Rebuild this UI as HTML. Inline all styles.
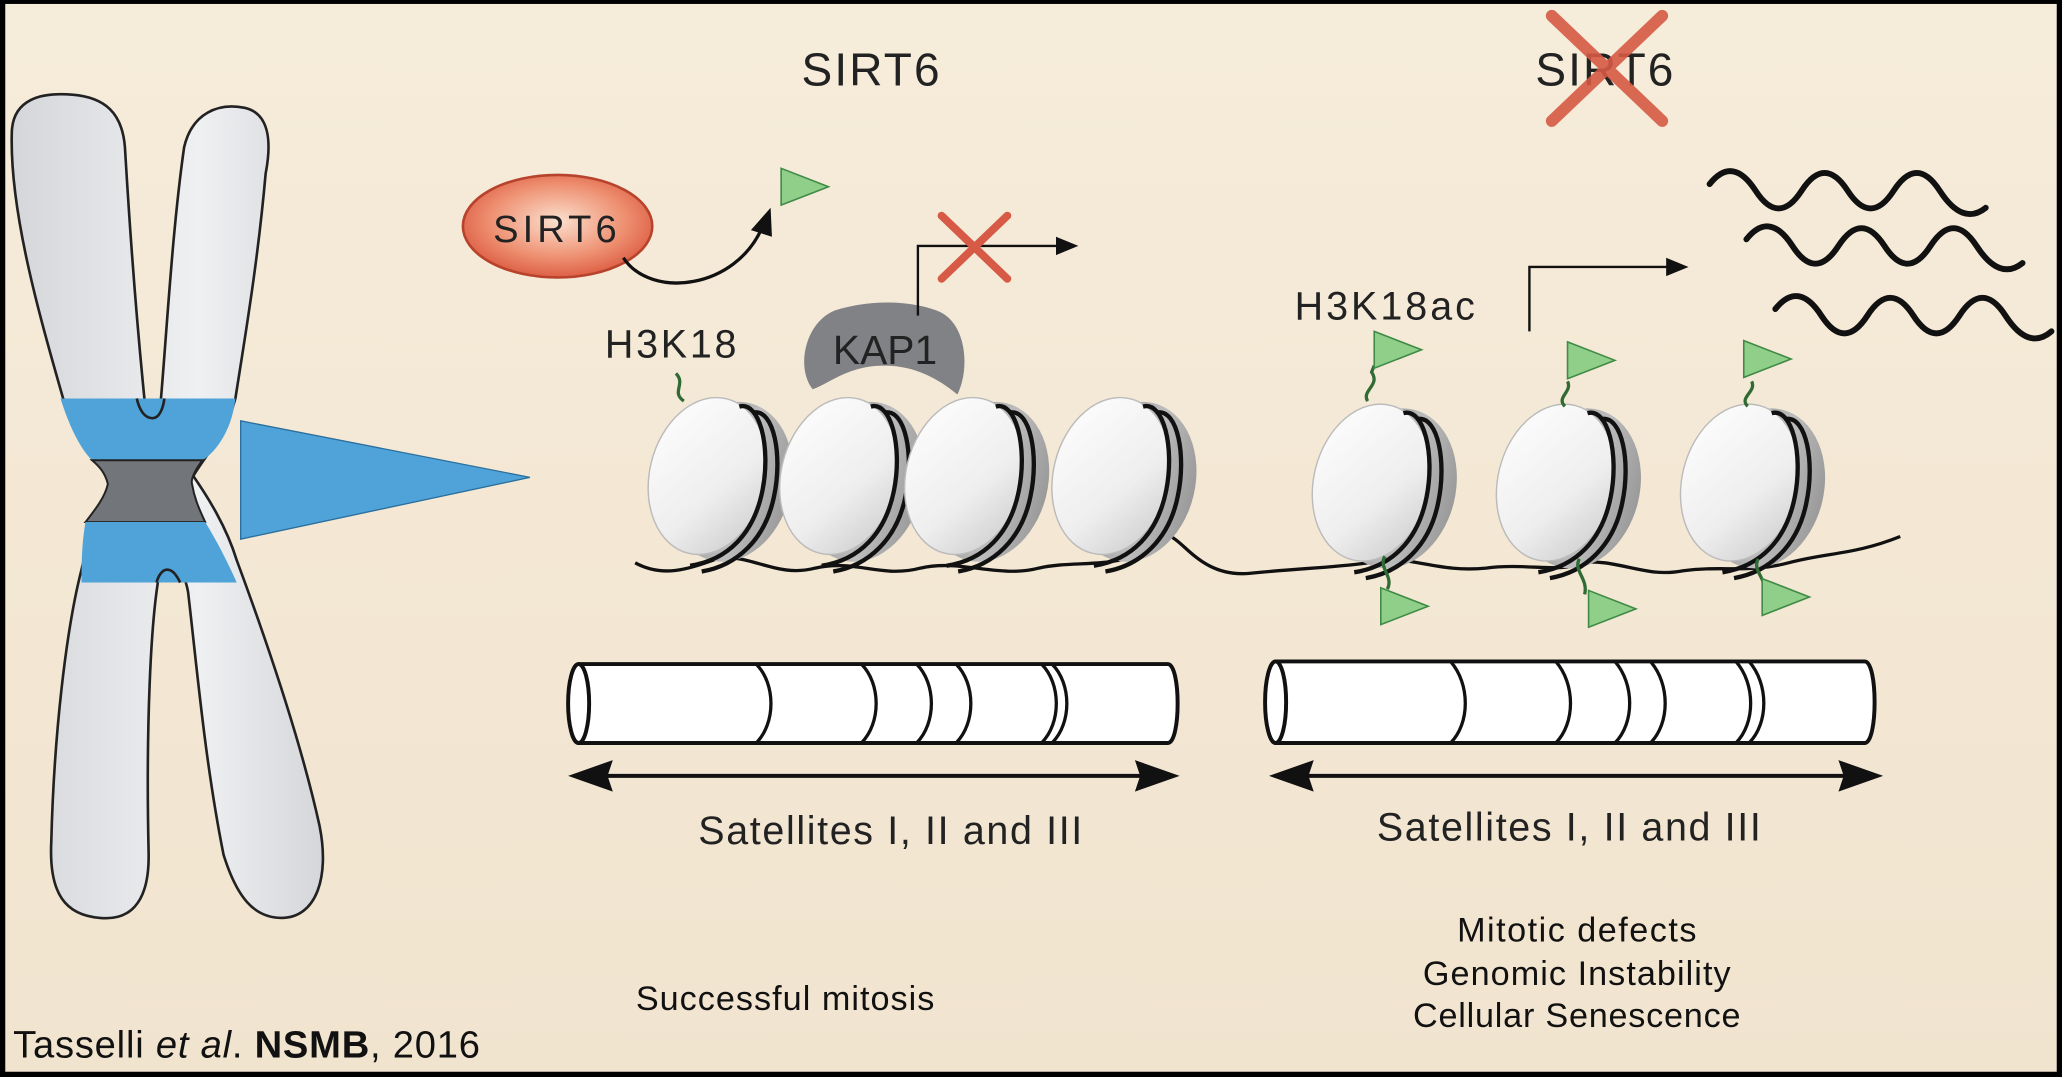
<!DOCTYPE html>
<html><head><meta charset="utf-8"><style>
html,body{margin:0;padding:0;background:#000}
svg{display:block}
text{font-family:"Liberation Sans",Arial,sans-serif}
</style></head><body>
<svg width="2062" height="1077" viewBox="0 0 1568 819" preserveAspectRatio="none" xmlns="http://www.w3.org/2000/svg">
<defs>
<linearGradient id="bg" x1="0" y1="0" x2="0" y2="1"><stop offset="0" stop-color="#f6ecda"/><stop offset="1" stop-color="#f1e4cf"/></linearGradient>
<linearGradient id="chr" x1="0" y1="0" x2="1" y2="0"><stop offset="0" stop-color="#d4d6d9"/><stop offset="0.6" stop-color="#eef0f2"/><stop offset="1" stop-color="#d4d6d9"/></linearGradient>
<radialGradient id="sir" cx="0.5" cy="0.45" r="0.6"><stop offset="0" stop-color="#fbe0cf"/><stop offset="0.6" stop-color="#ee8f70"/><stop offset="1" stop-color="#d9533a"/></radialGradient>
<linearGradient id="face" x1="0" y1="0" x2="1" y2="1"><stop offset="0" stop-color="#ffffff"/><stop offset="0.6" stop-color="#eeeeee"/><stop offset="1" stop-color="#c8c8c8"/></linearGradient>
<linearGradient id="side" x1="0" y1="0" x2="1" y2="0"><stop offset="0" stop-color="#8a8a8a"/><stop offset="0.6" stop-color="#bdbdbd"/><stop offset="1" stop-color="#9a9a9a"/></linearGradient>
<g id="nuc0">
<ellipse cx="16" cy="4" rx="42" ry="56" transform="rotate(14 16 4)" fill="url(#side)"/>
<ellipse cx="0" cy="0" rx="40" ry="55" transform="rotate(14 0 0)" fill="url(#face)" stroke="#bbb" stroke-width="1"/>
<path d="M22 -48 C36 -52 44 -20 38 10 C32 40 14 58 -12 62" fill="none" stroke="#111" stroke-width="3"/>
<path d="M32 -44 C46 -46 52 -14 46 14 C40 44 20 62 -4 66" fill="none" stroke="#111" stroke-width="3"/>
</g>
<g id="nuc"><use href="#nuc0" transform="scale(1.1)"/></g>
<g id="flag"><path d="M0 0 L36 14 L0 28 Z" fill="#8fcf8a" stroke="#3f8a45" stroke-width="1.2"/></g>
</defs>
<rect x="0" y="0" width="1568" height="819" fill="#000"/>
<rect x="4" y="3" width="1560" height="812" fill="url(#bg)"/>

<!-- chromosome -->
<path d="M48 303 C30 240 7 160 9 100 C10 76 30 70 55 72 C80 74 93 86 95 112 C99 180 105 255 110 305 C112 318 120 318 122 308 C127 250 131 175 140 112 C146 86 166 78 186 82 C204 86 207 106 202 132 C196 200 186 258 179 303 C172 330 155 348 147 362 C158 378 172 400 180 426 C200 480 228 560 243 628 C251 668 240 698 214 698 C193 698 180 682 170 650 C156 580 150 510 143 450 C139 428 126 418 122 432 C114 470 111 560 113 648 C114 690 96 700 76 698 C50 696 37 680 39 640 C41 560 50 480 62 433 C68 405 80 380 88 366 C75 352 60 330 48 303 Z" fill="url(#chr)" stroke="#222" stroke-width="2"/>
<path d="M46 303 L179 303 C176 330 162 345 154 350 L70 350 C60 340 52 322 46 303 Z" fill="#4fa3d8"/>
<path d="M70 350 L154 350 C148 358 145 364 146 368 C148 380 152 388 156 397 L65 397 C72 388 80 378 82 368 C80 360 76 355 70 350 Z" fill="#727579" stroke="#222" stroke-width="1.5"/>
<path d="M65 397 L156 397 C164 410 172 425 180 443 L62 443 C62 428 62 415 65 397 Z" fill="#4fa3d8"/>
<path d="M110 305 C112 318 120 318 122 308 L125 303 L106 303 Z" fill="#4fa3d8"/>
<path d="M104 303 C106 312 110 318 116 318 C121 318 124 311 125 303" fill="none" stroke="#222" stroke-width="2"/>
<path d="M119 443 C122 432 130 428 137 443" fill="none" stroke="#222" stroke-width="2"/>
<path d="M183 320 L183 410 L403 363 Z" fill="#4fa3d8" stroke="#2a6f9e" stroke-width="1"/>

<!-- titles -->
<text x="662" y="65" font-size="35" text-anchor="middle" fill="#222" textLength="105">SIRT6</text>
<text x="1220" y="65" font-size="35" text-anchor="middle" fill="#222" textLength="105">SIRT6</text>
<path d="M1180 12 L1264 92 M1264 12 L1180 92" stroke="#d65a45" stroke-width="9" stroke-linecap="round" opacity="0.9"/>

<!-- SIRT6 ellipse -->
<ellipse cx="424" cy="172" rx="72" ry="39" fill="url(#sir)" stroke="#b8432c" stroke-width="2"/>
<text x="422" y="184" font-size="29" text-anchor="middle" fill="#222" textLength="94">SIRT6</text>
<path d="M474 196 C495 228 560 220 580 172" fill="none" stroke="#111" stroke-width="2.5"/>
<path d="M586 158 L571 175 L587 180 Z" fill="#111"/>
<use href="#flag" x="594" y="128"/>

<!-- KAP1 -->
<path d="M618 296 C605 280 612 245 635 236 C660 228 690 228 712 236 C735 244 738 280 728 300 C718 292 700 278 672 278 C645 278 630 292 618 296 Z" fill="#808285"/>
<text x="673" y="277" font-size="31" text-anchor="middle" fill="#222">KAP1</text>
<path d="M698 240 L698 187 L808 187" fill="none" stroke="#111" stroke-width="1.8"/>
<path d="M820 187 L803 180 L803 194 Z" fill="#111"/>
<path d="M716 164 L766 212 M766 164 L716 212" stroke="#d65a45" stroke-width="6" stroke-linecap="round"/>

<text x="510" y="272" font-size="30" text-anchor="middle" fill="#222" textLength="100">H3K18</text>
<text x="1053" y="243" font-size="30" text-anchor="middle" fill="#222" textLength="137">H3K18ac</text>

<!-- right arrow & waves -->
<path d="M1163 252 L1163 203 L1270 203" fill="none" stroke="#111" stroke-width="1.8"/>
<path d="M1284 203 L1267 196 L1267 210 Z" fill="#111"/>
<g fill="none" stroke="#111" stroke-width="4.5" stroke-linecap="round">
<path d="M1300 140 Q1317.5 118 1335 145 T1370 145 T1405 145 T1440 145 T1475 145 T1510 158"/>
<path d="M1328 182 Q1345.5 160 1363 187 T1398 187 T1433 187 T1468 187 T1503 187 T1538 200"/>
<path d="M1350 235 Q1367.5 213 1385 240 T1420 240 T1455 240 T1490 240 T1525 240 T1560 252"/>
</g>

<!-- DNA -->
<path d="M483 428 C505 440 525 432 545 425 C570 420 590 440 620 432 C650 425 670 440 700 432 C730 425 760 440 790 432 C820 425 860 435 880 410 C895 395 905 440 950 436 C990 432 1010 432 1040 428 C1070 420 1090 436 1130 432 C1160 428 1190 436 1200 428 C1230 424 1250 440 1280 434 C1310 430 1330 436 1360 428 C1390 420 1410 422 1445 408" fill="none" stroke="#111" stroke-width="2.5"/>

<!-- nucleosomes -->
<use href="#nuc" x="538" y="362"/>
<use href="#nuc" x="638" y="362"/>
<use href="#nuc" x="733" y="362"/>
<use href="#nuc" x="845" y="362"/>
<use href="#nuc" x="1043" y="367"/>
<use href="#nuc" x="1183" y="367"/>
<use href="#nuc" x="1323" y="367"/>
<path d="M520 305 C510 298 522 292 514 284" fill="none" stroke="#2f6b33" stroke-width="2.5"/>

<!-- acetyl flags -->
<g fill="none" stroke="#2f6b33" stroke-width="2.5">
<path d="M1040 305 C1035 297 1050 293 1043 283 L1045 278"/>
<path d="M1190 309 C1183 302 1196 298 1192 290"/>
<path d="M1329 309 C1322 302 1336 298 1332 290"/>
<path d="M1053 423 C1048 432 1060 438 1055 448"/>
<path d="M1201 425 C1196 434 1208 440 1205 452"/>
<path d="M1337 425 C1332 434 1344 440 1341 450"/>
</g>
<use href="#flag" x="1045" y="252"/>
<use href="#flag" x="1192" y="260"/>
<use href="#flag" x="1326" y="259"/>
<use href="#flag" x="1050" y="447"/>
<use href="#flag" x="1208" y="449"/>
<use href="#flag" x="1340" y="440"/>

<!-- cylinders -->
<g fill="#fff" stroke="#111" stroke-width="3">
<path d="M440 505 L888 505 C898 505 898 565 888 565 L440 565 C430 565 430 505 440 505 Z"/>
<ellipse cx="440" cy="535" rx="8" ry="30"/>
<path d="M970 503 L1418 503 C1428 503 1428 565 1418 565 L970 565 C960 565 960 503 970 503 Z"/>
<ellipse cx="970" cy="534" rx="8" ry="31"/>
</g>
<g fill="none" stroke="#111" stroke-width="2.5">
<path d="M575 505 C590 520 590 550 575 565"/>
<path d="M655 505 C670 520 670 550 655 565"/>
<path d="M697 505 C712 520 712 550 697 565"/>
<path d="M727 505 C742 520 742 550 727 565"/>
<path d="M792 505 C807 520 807 550 792 565"/>
<path d="M800 505 C815 520 815 550 800 565"/>
<path d="M1103 503 C1118 520 1118 550 1103 565"/>
<path d="M1183 503 C1198 520 1198 550 1183 565"/>
<path d="M1228 503 C1243 520 1243 550 1228 565"/>
<path d="M1255 503 C1270 520 1270 550 1255 565"/>
<path d="M1320 503 C1335 520 1335 550 1320 565"/>
<path d="M1330 503 C1345 520 1345 550 1330 565"/>
</g>

<!-- double arrows -->
<path d="M455 590 L875 590" stroke="#111" stroke-width="3"/>
<path d="M432 590 L466 578 L462 590 L466 602 Z M897 590 L863 578 L867 590 L863 602 Z" fill="#111"/>
<path d="M988 590 L1410 590" stroke="#111" stroke-width="3"/>
<path d="M965 590 L999 578 L995 590 L999 602 Z M1432 590 L1398 578 L1402 590 L1398 602 Z" fill="#111"/>

<text x="677" y="642" font-size="30" text-anchor="middle" fill="#222" textLength="292">Satellites I, II and III</text>
<text x="1193" y="639" font-size="30" text-anchor="middle" fill="#222" textLength="292">Satellites I, II and III</text>

<text x="597" y="768" font-size="26" text-anchor="middle" fill="#111" textLength="227">Successful mitosis</text>
<text x="1199" y="716" font-size="26" text-anchor="middle" fill="#111" textLength="182">Mitotic defects</text>
<text x="1199" y="749" font-size="26" text-anchor="middle" fill="#111" textLength="234">Genomic Instability</text>
<text x="1199" y="781" font-size="26" text-anchor="middle" fill="#111" textLength="249">Cellular Senescence</text>

<text x="10" y="804" font-size="29" fill="#111" textLength="355">Tasselli <tspan font-style="italic">et al</tspan>. <tspan font-weight="bold">NSMB</tspan>, 2016</text>
</svg>
</body></html>
